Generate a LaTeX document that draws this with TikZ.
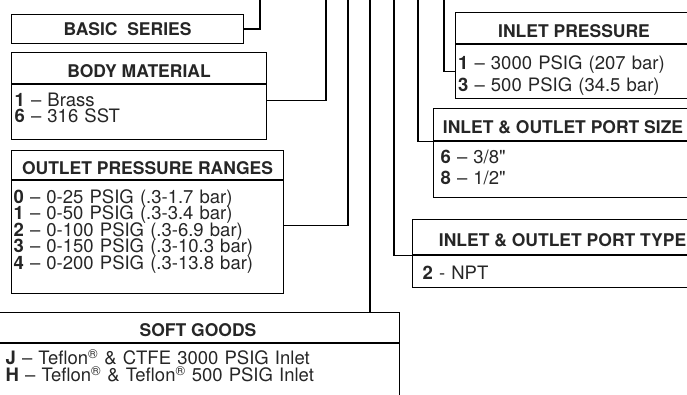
\documentclass[tikz,border=0pt]{standalone}
\usepackage{fontspec}
\setmainfont{TeX Gyre Heros}
\newfontfamily\rawfont{TeX Gyre Heros}[Ligatures=TeXOff]
\newcommand{\inchmark}{{\rawfont"}}

\begin{document}
\begin{tikzpicture}[
    x=1pt, y=-1pt,
    line width=1.1pt,
    every node/.style={draw,rectangle,inner sep=0pt,text=black!85},
    headbox/.style={font=\bfseries\fontsize{17.5}{18}\selectfont,text height=18pt,text depth=0pt},
    listbox/.style n args={2}{minimum width=#1,minimum height=#2,anchor=north},
    listtext/.style={draw=none,text width=#1,align=left,anchor=north west,
      font=\fontsize{18.5}{16.5}\selectfont,
      execute at begin node={\baselineskip=16.5pt\lineskiplimit=-20pt\relax}}
  ]
    \useasboundingbox (0,0) rectangle (687,395);
    \clip (0,0) rectangle (687,395);

    \node[headbox,text height=13pt,minimum width=232pt,minimum height=29pt,anchor=north west] (basic) at (11,14) {BASIC\ \ SERIES};

    \node[headbox,minimum width=255pt,minimum height=31pt,anchor=north west] (bodyhd) at (11,52) {BODY MATERIAL};
    \node[listbox={255pt}{55pt}] (bodybd) at (bodyhd.south) {};
    \node[listtext=249pt] (bodytx) at ([xshift=3pt,yshift=-8pt]bodybd.north west)
      {\textbf{1} -- Brass\\ \textbf{6} -- 316 SST};

    \node[headbox,minimum width=272pt,minimum height=29pt,anchor=north west] (outhd) at (11,150) {OUTLET PRESSURE RANGES};
    \node[listbox={272pt}{113pt}] (outbd) at (outhd.south) {};
    \node[listtext=266pt] (outtx) at ([xshift=2pt,yshift=-9pt]outbd.north west)
      {\textbf{0} -- 0-25 PSIG (.3-1.7 bar)\\ \textbf{1} -- 0-50 PSIG (.3-3.4 bar)\\
       \textbf{2} -- 0-100 PSIG (.3-6.9 bar)\\ \textbf{3} -- 0-150 PSIG (.3-10.3 bar)\\
       \textbf{4} -- 0-200 PSIG (.3-13.8 bar)};

    \node[headbox,minimum width=403pt,minimum height=30pt,anchor=north west] (softhd) at (-4,312) {SOFT GOODS};
    \node[listbox={403pt}{60pt}] (softbd) at (softhd.south) {};
    \node[listtext=385pt] (softtx) at ([xshift=9pt,yshift=-6pt]softbd.north west)
      {\textbf{J} -- Teflon\textsuperscript{\textregistered} \& CTFE 3000 PSIG Inlet\\[0.5pt]
       \textbf{H} -- Teflon\textsuperscript{\textregistered} \& Teflon\textsuperscript{\textregistered} 500 PSIG Inlet};

    \node[headbox,minimum width=237pt,minimum height=31pt,anchor=north west] (inphd) at (455,12) {INLET PRESSURE};
    \node[listbox={237pt}{54pt}] (inpbd) at (inphd.south) {};
    \node[listtext=232pt] (inptx) at ([xshift=2.5pt,yshift=-11pt]inpbd.north west)
      {\textbf{1} -- 3000 PSIG (207 bar)\\[5.5pt] \textbf{3} -- 500 PSIG (34.5 bar)};

    \node[headbox,minimum width=259pt,minimum height=32pt,anchor=north west] (sizehd) at (433,108) {INLET \& OUTLET PORT SIZE};
    \node[listbox={259pt}{56pt}] (sizebd) at (sizehd.south) {};
    \node[listtext=245pt] (sizetx) at ([xshift=7pt,yshift=-8pt]sizebd.north west)
      {\textbf{6} -- 3/8\inchmark\\[4.5pt] \textbf{8} -- 1/2\inchmark};

    \node[headbox,minimum width=300pt,minimum height=35pt,anchor=north west] (typehd) at (412,219) {INLET \& OUTLET PORT TYPE};
    \node[listbox={300pt}{32pt}] (typebd) at (typehd.south) {};
    \node[listtext=280pt] (typetx) at ([xshift=10pt,yshift=-10pt]typebd.north west)
      {\textbf{2} - NPT};

    \coordinate (t1) at (260,0);
    \coordinate (t2) at (326,0);
    \coordinate (t3) at (348,0);
    \coordinate (t4) at (370,0);
    \coordinate (t5) at (394,0);
    \coordinate (t6) at (418,0);
    \coordinate (t7) at (444,0);

    \draw (basic.east) -| (t1);
    \draw ([yshift=11.5pt]bodybd.east) -| (t2);
    \draw ([yshift=11.5pt]outbd.east) -| (t3);
    \draw (t4) -- (t4 |- softhd.north);
    \draw (t5) |- (typehd.south west);
    \draw (t6) |- (sizehd.south west);
    \draw (t7) |- (inpbd.west);
  \end{tikzpicture}
\end{document}
